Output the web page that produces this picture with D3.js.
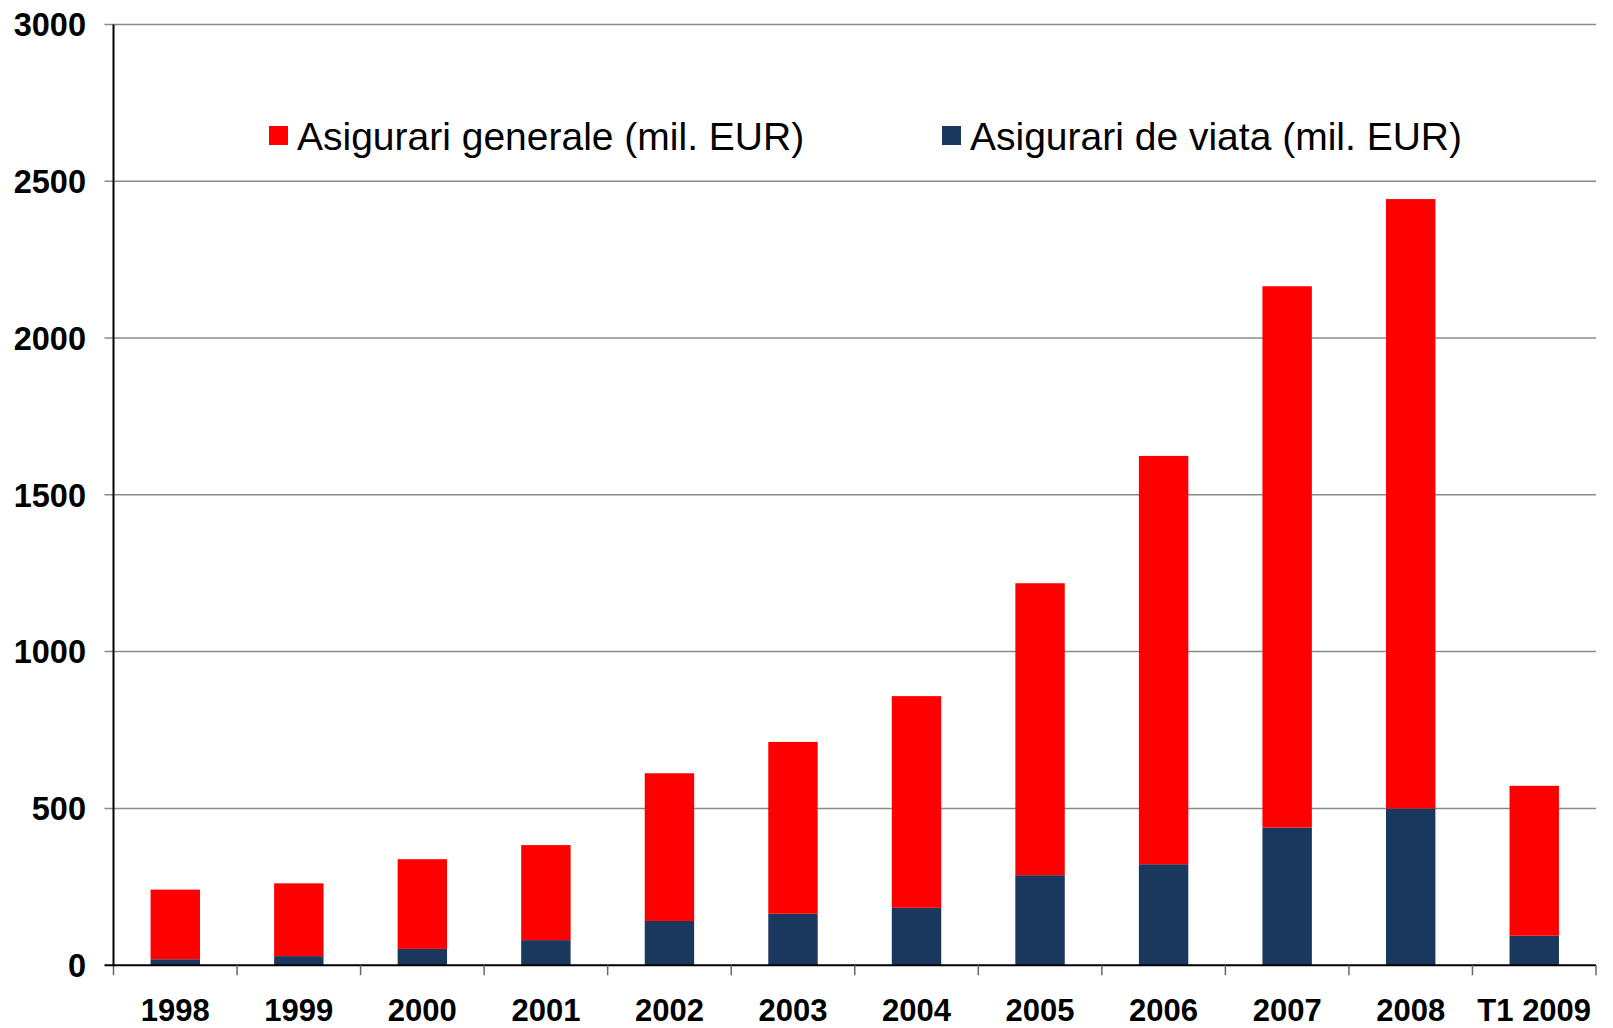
<!DOCTYPE html>
<html>
<head>
<meta charset="utf-8">
<script src="https://cdn.jsdelivr.net/npm/d3@7"></script>
<style>
  html, body { margin: 0; padding: 0; background: #fff; }
  svg { display: block; }
  text { font-family: "Liberation Sans", Arial, sans-serif; }
</style>
</head>
<body>
<svg id="chart" width="1613" height="1028"></svg>
<script>
const categories = ["1998","1999","2000","2001","2002","2003","2004","2005","2006","2007","2008","T1 2009"];
const lifeValues    = [19, 29, 52, 80, 141, 164, 183, 287, 322, 439, 500, 94];
const generalValues = [222, 232, 286, 303, 471, 548, 675, 931, 1302, 1726, 1943, 478];
const yTicks = [0, 500, 1000, 1500, 2000, 2500, 3000];
const seriesNames = ["Asigurari generale (mil. EUR)", "Asigurari de viata (mil. EUR)"];
const colors = { general: "#FF0000", life: "#1A375E" };

(function () {
const svg = d3.select("#chart");
const pLeft = 113.5, pRight = 1596, pTop = 24.4, pBottom = 965.2;

const x = d3.scaleBand().domain(categories).range([pLeft, pRight]).paddingInner(0.6).paddingOuter(0.3);
const xb = d3.scaleBand().domain(categories).range([pLeft, pRight]).padding(0);
const y = d3.scaleLinear().domain([0, 3000]).range([pBottom, pTop]);

// gridlines
svg.append("g")
  .selectAll("line").data(yTicks.filter(d => d > 0)).join("line")
  .attr("x1", pLeft - 9).attr("x2", pRight)
  .attr("y1", d => y(d)).attr("y2", d => y(d))
  .attr("stroke", "#8a8a8a").attr("stroke-width", 1.5);

// y tick labels
svg.append("g")
  .selectAll("text").data(yTicks).join("text")
  .attr("x", 86).attr("y", d => y(d)).attr("dy", "0.36em")
  .attr("text-anchor", "end")
  .attr("font-size", 32.5).attr("font-weight", "bold").attr("fill", "#000")
  .text(d => d);

// stacked data
const data = categories.map((c, i) => ({ cat: c, life: lifeValues[i], general: generalValues[i] }));
const stack = d3.stack().keys(["life", "general"])(data);

svg.append("g")
  .selectAll("g").data(stack).join("g")
  .attr("fill", s => colors[s.key])
  .selectAll("rect").data(s => s).join("rect")
  .attr("x", d => x(d.data.cat))
  .attr("width", x.bandwidth())
  .attr("y", d => y(d[1]))
  .attr("height", d => y(d[0]) - y(d[1]));

// x axis line
svg.append("line")
  .attr("x1", pLeft - 9).attr("x2", pRight)
  .attr("y1", pBottom).attr("y2", pBottom)
  .attr("stroke", "#000").attr("stroke-width", 2);

// category boundary ticks
const bounds = categories.map(c => xb(c)).concat([pRight]);
svg.append("g")
  .selectAll("line").data(bounds).join("line")
  .attr("x1", d => d).attr("x2", d => d)
  .attr("y1", pBottom).attr("y2", pBottom + 10)
  .attr("stroke", "#666").attr("stroke-width", 1.5);

// y axis line
svg.append("line")
  .attr("x1", pLeft).attr("x2", pLeft)
  .attr("y1", pTop).attr("y2", pBottom + 1)
  .attr("stroke", "#000").attr("stroke-width", 2);

// x labels
svg.append("g")
  .selectAll("text").data(categories).join("text")
  .attr("x", c => xb(c) + xb.bandwidth() / 2)
  .attr("y", 1021)
  .attr("text-anchor", "middle")
  .attr("font-size", 31).attr("font-weight", "bold").attr("fill", "#000")
  .text(c => c);

// legend
const legendItems = [
  { name: seriesNames[0], color: colors.general, sx: 269, tx: 297 },
  { name: seriesNames[1], color: colors.life, sx: 942, tx: 970 }
];
const lg = svg.append("g").selectAll("g").data(legendItems).join("g");
lg.append("rect")
  .attr("x", d => d.sx).attr("y", 126).attr("width", 19).attr("height", 19)
  .attr("fill", d => d.color);
lg.append("text")
  .attr("x", d => d.tx).attr("y", 150)
  .attr("font-size", 39).attr("fill", "#000")
  .text(d => d.name);
})();
</script>
</body>
</html>
